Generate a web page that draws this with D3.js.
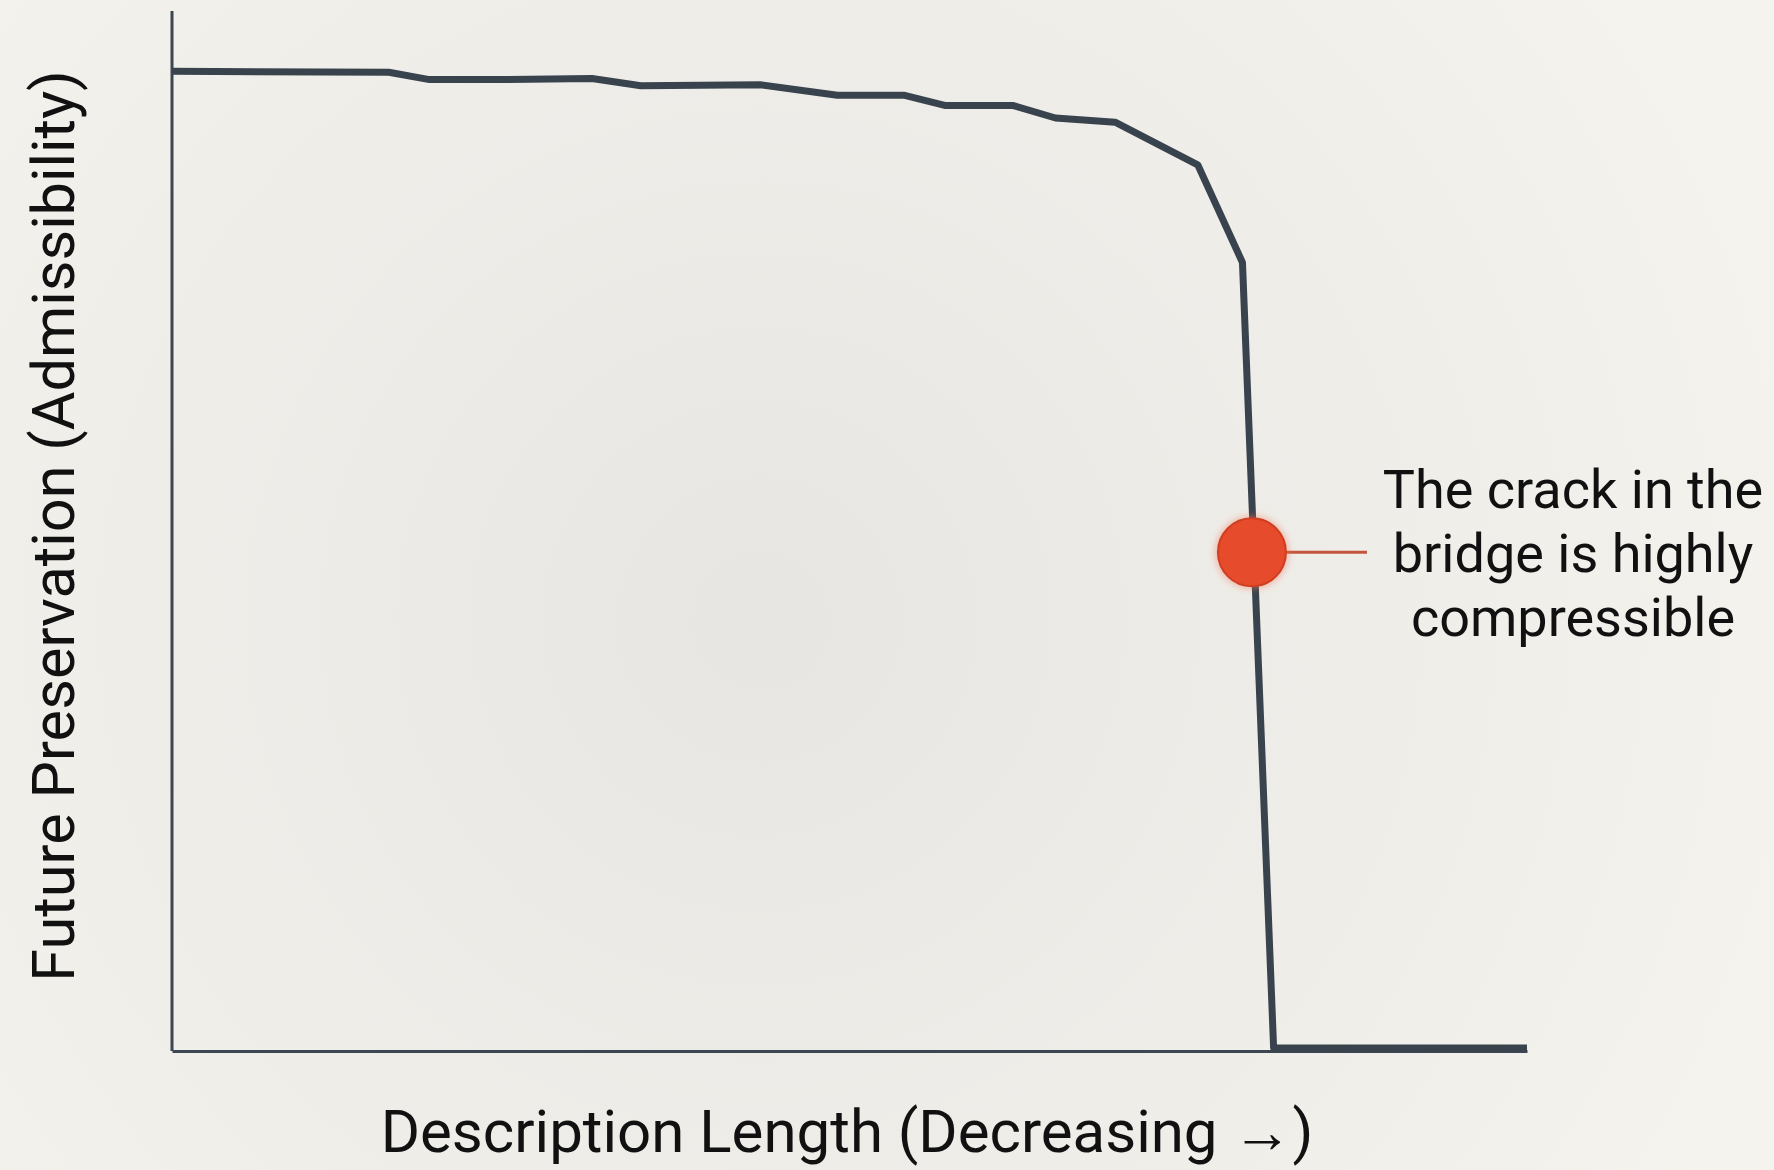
<!DOCTYPE html>
<html>
<head>
<meta charset="utf-8">
<script src="https://cdn.jsdelivr.net/npm/d3@7"></script>
<style>
  html, body { margin: 0; padding: 0; background: #efede8; }
  svg { display: block; }
</style>
</head>
<body>
<script>
const w = 1774;
const h = 1170;

// description length (0 = long, 100 = short) and preservation values
const lengthValues = [0, 16, 19, 24.3, 31, 34.6, 43.4, 49.1, 54, 57.1, 62.1, 65.2, 69.6, 75.7, 79, 81.3, 100];
const preservationValues = [94.2, 94.1, 93.4, 93.4, 93.5, 92.8, 92.9, 91.9, 91.9, 90.9, 90.9, 89.7, 89.3, 85.2, 75.8, 0.2, 0.2];

const crackPoint = [79.7, 47.9];
const crackLabel = ["The crack in the", "bridge is highly", "compressible"];

const xLabel = "Description Length (Decreasing \u2192)";
const yLabel = "Future Preservation (Admissibility)";

const plotLeft = 172;
const plotRight = 1527;
const plotTop = 11;
const plotBottom = 1051;

const svg = d3.select("body").append("svg").attr("width", w).attr("height", h);

const defs = svg.append("defs");
const bg = defs.append("radialGradient")
  .attr("id", "bg")
  .attr("gradientUnits", "userSpaceOnUse")
  .attr("cx", 760).attr("cy", 620).attr("r", 1100);
bg.append("stop").attr("offset", "0%").attr("stop-color", "#e8e6e2");
bg.append("stop").attr("offset", "100%").attr("stop-color", "#f5f3ee");

const glow = defs.append("filter").attr("id", "glow")
  .attr("x", "-50%").attr("y", "-50%").attr("width", "200%").attr("height", "200%");
glow.append("feGaussianBlur").attr("stdDeviation", 3);

svg.append("rect").attr("width", w).attr("height", h).attr("fill", "url(#bg)");

const xScale = d3.scaleLinear().domain([0, 100]).range([plotLeft, plotRight]);
const yScale = d3.scaleLinear().domain([0, 100]).range([plotBottom - 1, plotTop]);

const xAxis = d3.axisBottom(xScale).tickValues([]).tickSizeOuter(0);
const yAxis = d3.axisLeft(yScale).tickValues([]).tickSizeOuter(0);

svg.append("g")
  .attr("id", "xAxis")
  .attr("transform", "translate(0," + plotBottom + ")")
  .call(xAxis)
  .select(".domain")
  .attr("stroke", "#3d4752")
  .attr("stroke-width", 3);

svg.append("g")
  .attr("id", "yAxis")
  .attr("transform", "translate(" + plotLeft + ",0)")
  .call(yAxis)
  .select(".domain")
  .attr("d", "M0," + plotTop + "V" + plotBottom)
  .attr("stroke", "#3d4752")
  .attr("stroke-width", 3);

const points = lengthValues.map((d, i) => [d, preservationValues[i]]);

const line = d3.line()
  .x(d => xScale(d[0]))
  .y(d => yScale(d[1]));

svg.append("path")
  .datum(points)
  .attr("d", line)
  .attr("fill", "none")
  .attr("stroke", "#38434e")
  .attr("stroke-width", 7)
  .attr("stroke-linejoin", "round");

// crack marker
const cx = xScale(crackPoint[0]);
const cy = yScale(crackPoint[1]);
const r = 34;

svg.append("line")
  .attr("x1", cx + r).attr("x2", 1367)
  .attr("y1", cy).attr("y2", cy)
  .attr("stroke", "#c4553d")
  .attr("stroke-width", 3);

svg.append("circle")
  .attr("cx", cx).attr("cy", cy).attr("r", r + 3)
  .attr("fill", "#f07a5e")
  .attr("opacity", 0.45)
  .attr("filter", "url(#glow)");

svg.append("circle")
  .attr("cx", cx).attr("cy", cy).attr("r", r)
  .attr("fill", "#e64b2c")
  .attr("stroke", "#d03e21")
  .attr("stroke-width", 2);

svg.append("text")
  .attr("text-anchor", "middle")
  .attr("font-family", "Roboto, sans-serif")
  .attr("font-size", 54)
  .attr("fill", "#111")
  .selectAll("tspan")
  .data(crackLabel)
  .enter()
  .append("tspan")
  .attr("x", 1573)
  .attr("y", (d, i) => 489 + i * 64)
  .attr("dominant-baseline", "central")
  .text(d => d);

svg.append("text")
  .attr("x", 847)
  .attr("y", 1131)
  .attr("text-anchor", "middle")
  .attr("dominant-baseline", "central")
  .attr("font-family", "Roboto, sans-serif")
  .attr("font-size", 60)
  .attr("fill", "#111")
  .text(xLabel);

svg.append("text")
  .attr("transform", "translate(54,526)rotate(-90)")
  .attr("text-anchor", "middle")
  .attr("dominant-baseline", "central")
  .attr("font-family", "Roboto, sans-serif")
  .attr("font-size", 59.5)
  .attr("fill", "#111")
  .text(yLabel);
</script>
</body>
</html>
